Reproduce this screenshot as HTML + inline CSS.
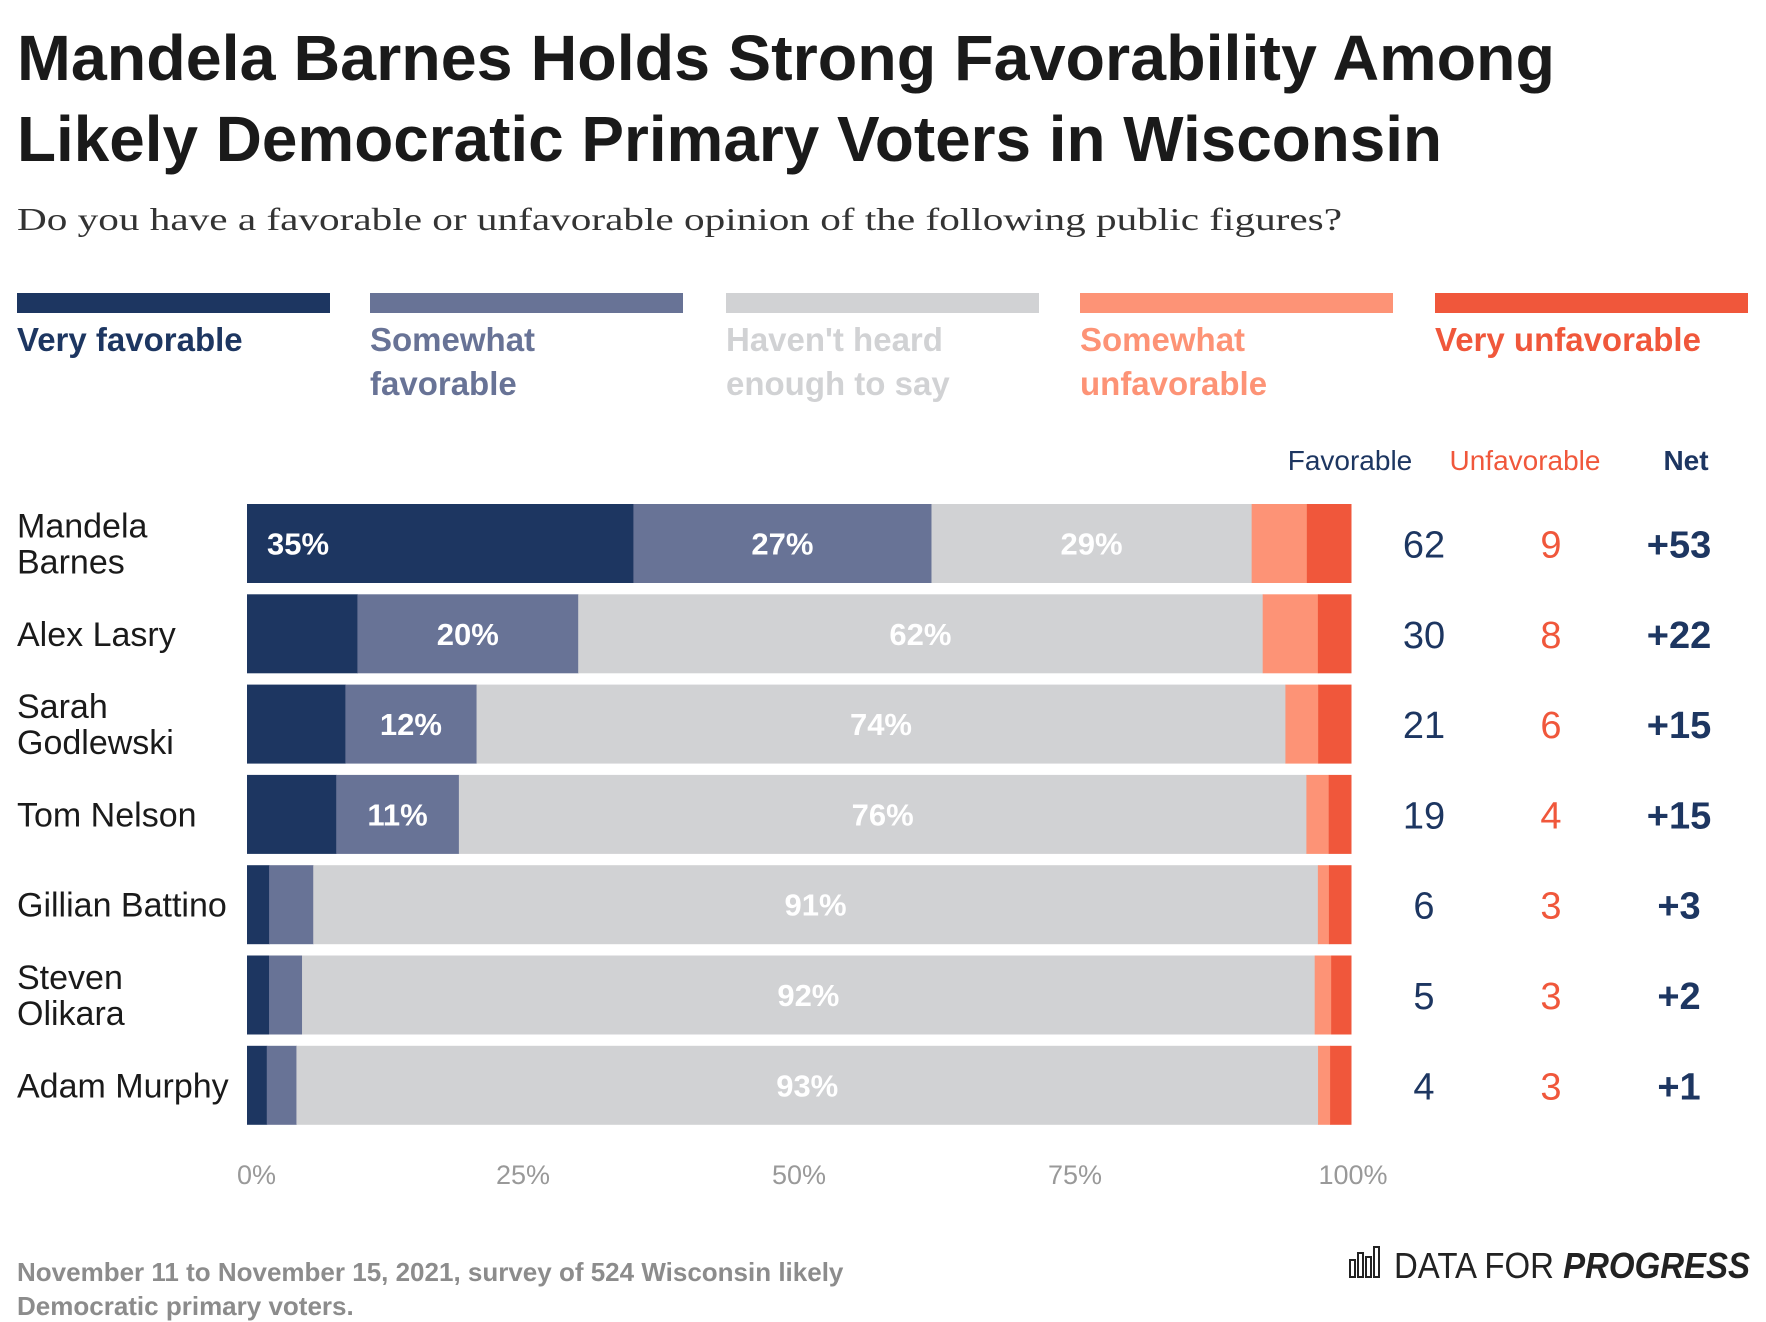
<!DOCTYPE html>
<html><head><meta charset="utf-8"><style>
html,body{margin:0;padding:0;background:#fff;}
svg{display:block;font-family:"Liberation Sans",sans-serif;}
</style></head><body>
<svg id="chart" width="1766" height="1322" viewBox="0 0 1766 1322" xmlns="http://www.w3.org/2000/svg">
<text x="17" y="80" font-size="64" font-weight="bold" fill="#1a1a1a" textLength="1538" lengthAdjust="spacingAndGlyphs">Mandela Barnes Holds Strong Favorability Among</text>
<text x="17" y="161" font-size="64" font-weight="bold" fill="#1a1a1a" textLength="1425" lengthAdjust="spacingAndGlyphs">Likely Democratic Primary Voters in Wisconsin</text>
<text x="17" y="230" font-size="32" font-family="Liberation Serif, serif" fill="#333" textLength="1325" lengthAdjust="spacingAndGlyphs">Do you have a favorable or unfavorable opinion of the following public figures?</text>
<g id="legend"></g>
<g id="headers">
<text x="1350" y="470" font-size="28" fill="#1d3661" text-anchor="middle">Favorable</text>
<text x="1525" y="470" font-size="28" fill="#f0573b" text-anchor="middle">Unfavorable</text>
<text x="1686" y="470" font-size="28" font-weight="bold" fill="#1d3661" text-anchor="middle">Net</text>
</g>
<g id="bars"></g>
<g id="axis"></g>
<text x="17" y="1281" font-size="26" font-weight="bold" fill="#8c8c8c">November 11 to November 15, 2021, survey of 524 Wisconsin likely</text>
<text x="17" y="1315" font-size="26" font-weight="bold" fill="#8c8c8c">Democratic primary voters.</text>
<g transform="translate(-8,-5)">
<rect x="1358" y="1265" width="5" height="17" fill="none" stroke="#222" stroke-width="2"/>
<rect x="1366" y="1258" width="5" height="24" fill="none" stroke="#222" stroke-width="2"/>
<rect x="1374" y="1262" width="5" height="20" fill="none" stroke="#222" stroke-width="2"/>
<rect x="1382" y="1252" width="5" height="30" fill="none" stroke="#222" stroke-width="2"/>
<text x="1402" y="1283" font-size="36" fill="#222" textLength="356" lengthAdjust="spacingAndGlyphs">DATA FOR <tspan font-weight="bold" font-style="italic">PROGRESS</tspan></text>
</g>
</svg>
<script>
const names = [["Mandela","Barnes"],["Alex Lasry"],["Sarah","Godlewski"],["Tom Nelson"],["Gillian Battino"],["Steven","Olikara"],["Adam Murphy"]];
const veryFav = [35,10,9,8,2,2,1.8];
const someFav = [27,20,12,11,4,3,2.7];
const notHeard = [29,62,74,76,91,92,93];
const someUnfav = [5,5,3,2,1,1.5,1.1];
const veryUnfav = [4,3,3,2,2,1.8,1.9];
const favTotal = [62,30,21,19,6,5,4];
const unfavTotal = [9,8,6,4,3,3,3];
const netVals = ["+53","+22","+15","+15","+3","+2","+1"];
const ticks = [0,25,50,75,100];
const tickLabels = ["0%","25%","50%","75%","100%"];
const seriesNames = ["Very favorable","Somewhat favorable","Haven't heard enough to say","Somewhat unfavorable","Very unfavorable"];

const colors = ["#1d3661","#687396","#d1d2d4","#fd9376","#f0573b"];
const NS = "http://www.w3.org/2000/svg";
const X0 = 247, X1 = 1351, Y0 = 504, PITCH = 90.3, BH = 79;
const xs = v => X0 + v/100*(X1-X0);
function mk(tag, attrs, parent, txt){
  const e = document.createElementNS(NS, tag);
  for (const k in attrs) e.setAttribute(k, attrs[k]);
  if (txt !== undefined) e.textContent = txt;
  parent.appendChild(e); return e;
}
const lg = document.getElementById('legend');
const legX = [17,370,726,1080,1435], legW = 313;
const legLines = [["Very favorable"],["Somewhat","favorable"],["Haven't heard","enough to say"],["Somewhat","unfavorable"],["Very unfavorable"]];
const legText = ["#1d3661","#687396","#d1d2d4","#fd9376","#f0573b"];
seriesNames.forEach((s,i)=>{
  const r = mk('rect',{x:legX[i],y:293,width:legW,height:20,fill:colors[i]},lg);
  
  
  legLines[i].forEach((l,j)=>{
    const t = mk('text',{x:legX[i],y:351+j*44,'font-size':33,'font-weight':'bold',fill:legText[i]},lg,l);
    
    
  });
});
const bg = document.getElementById('bars');
const series = [veryFav,someFav,notHeard,someUnfav,veryUnfav];
names.forEach((nm,i)=>{
  const y = Y0 + i*PITCH;
  const total = series.reduce((a,s)=>a+s[i],0);
  let acc = 0;
  series.forEach((s,k)=>{
    const v = s[i]/total*100;
    const r = mk('rect',{x:xs(acc),y:y,width:xs(acc+v)-xs(acc)+0.5,height:BH,fill:colors[k]},bg);
    
    
    const shown = s[i];
    if (k<3 && shown>10){
      const cx = (k===0) ? xs(acc)+20 : (xs(acc)+xs(acc+v))/2;
      const t = mk('text',{x:cx,y:y+BH/2+11,'font-size':31,'font-weight':'bold',fill:'#fff','text-anchor':k===0?'start':'middle'},bg,Math.round(shown)+'%');
      
      
    }
    acc += v;
  });
  nm.forEach((l,j)=>{
    const ly = nm.length===1 ? y+BH/2+12 : y+BH/2-6+j*36;
    const t = mk('text',{x:17,y:ly,'font-size':34,fill:'#1a1a1a'},bg,l);
    
    
  });
  const cy = y+BH/2+14;
  const a = mk('text',{x:1424,y:cy,'font-size':38,fill:'#1d3661','text-anchor':'middle'},bg,favTotal[i]);
  
  
  const b = mk('text',{x:1551,y:cy,'font-size':38,fill:'#f0573b','text-anchor':'middle'},bg,unfavTotal[i]);
  
  
  const c = mk('text',{x:1679,y:cy,'font-size':38,'font-weight':'bold',fill:'#1d3661','text-anchor':'middle'},bg,netVals[i]);
  
  
});
const ax = document.getElementById('axis');
ticks.forEach((t,i)=>{
  const e = mk('text',{x:i===0?xs(t)-10:xs(t)+(i===4?2:0),y:1184,'font-size':27,fill:'#999','text-anchor':i===0?'start':'middle'},ax,tickLabels[i]);
  
  
});
</script>
</body></html>
